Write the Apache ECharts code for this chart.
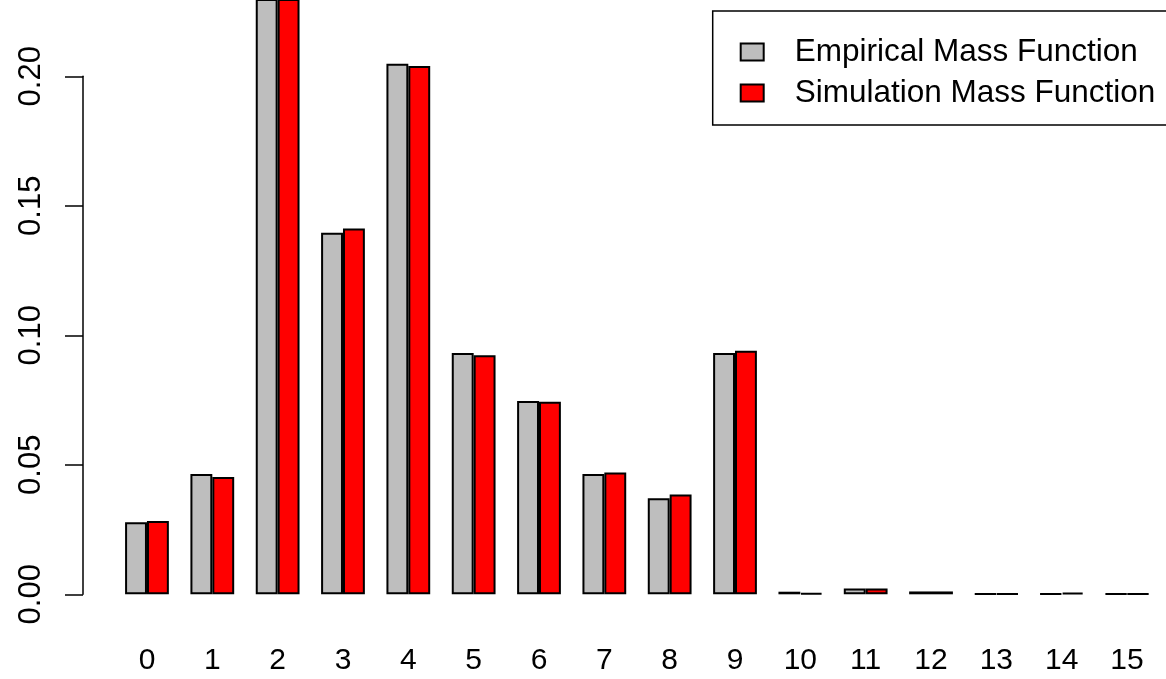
<!DOCTYPE html>
<html>
<head>
<meta charset="utf-8">
<script src="https://cdn.jsdelivr.net/npm/echarts@6/dist/echarts.min.js"></script>
<style>
html,body{margin:0;padding:0;background:#fff;}
#chart{width:1166px;height:679px;}
</style>
</head>
<body>
<div id="chart"></div>
<script>
const categories = ['0','1','2','3','4','5','6','7','8','9','10','11','12','13','14','15'];
const empirical = [0.0278, 0.0464, 0.245, 0.1396, 0.2048, 0.0932, 0.0746, 0.0464, 0.0371, 0.0932, 0.0010, 0.0022, 0.0011, 0.0002, 0.0002, 0.0002];
const simulation = [0.0283, 0.0453, 0.245, 0.1412, 0.2040, 0.0923, 0.0743, 0.0470, 0.0385, 0.0940, 0.0005, 0.0022, 0.0011, 0.0002, 0.0007, 0.0002];
const seriesNames = ['Empirical Mass Function', 'Simulation Mass Function'];
const yTickMin = 0, yTickMax = 0.20, yTickStep = 0.05;

const FONT = '"Liberation Sans", Arial, sans-serif';
const chart = echarts.init(document.getElementById('chart'), null, {renderer: 'canvas'});
const plotBottom = 84.7;
const pxPerUnit = 2590;
const plotHeight = 679 - plotBottom;
const plotMax = plotHeight / pxPerUnit;

chart.setOption({
  animation: false,
  backgroundColor: '#ffffff',
  grid: [
    {left: 114.3, right: 6.3, top: 0, bottom: plotBottom},
    {left: 83, width: 10, top: plotHeight - yTickMax * pxPerUnit, bottom: plotBottom}
  ],
  legend: {
    left: 712.7, top: 11,
    orient: 'vertical',
    data: seriesNames,
    icon: 'rect',
    itemWidth: 23, itemHeight: 17,
    itemGap: 9,
    padding: [25, 40, 16, 27],
    borderColor: '#000', borderWidth: 1.5,
    textStyle: {fontFamily: FONT, fontSize: 31.5, color: '#000', lineHeight: 30, padding: [0, 0, 0, 26]}
  },
  xAxis: [
    {type: 'category', gridIndex: 0, data: categories,
     axisLine: {show: false}, axisTick: {show: false},
     axisLabel: {fontFamily: FONT, fontSize: 30, color: '#000', margin: 51, interval: 0}},
    {type: 'value', gridIndex: 1, show: false}
  ],
  yAxis: [
    {type: 'value', gridIndex: 0, min: 0, max: plotMax, show: false, splitLine: {show: false}},
    {type: 'value', gridIndex: 1, min: yTickMin, max: yTickMax, interval: yTickStep,
     axisLine: {show: true, lineStyle: {color: '#000', width: 1.5}},
     axisTick: {show: true, length: 18, lineStyle: {color: '#000', width: 1.5}},
     splitLine: {show: false},
     axisLabel: {fontFamily: FONT, fontSize: 31, color: '#000', rotate: 90, margin: 36,
                 formatter: v => v.toFixed(2)}}
  ],
  series: [
    {name: seriesNames[0], type: 'bar', xAxisIndex: 0, yAxisIndex: 0, data: empirical,
     barGap: '0%', barCategoryGap: '33%',
     itemStyle: {color: '#bebebe', borderColor: '#000', borderWidth: 2}},
    {name: seriesNames[1], type: 'bar', xAxisIndex: 0, yAxisIndex: 0, data: simulation,
     barGap: '0%', barCategoryGap: '33%',
     itemStyle: {color: '#ff0000', borderColor: '#000', borderWidth: 2}}
  ]
});
</script>
</body>
</html>
